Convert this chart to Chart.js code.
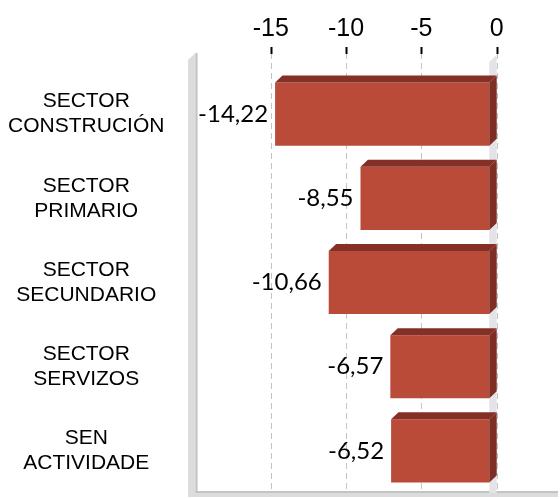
<!DOCTYPE html>
<html><head><meta charset="utf-8">
<script src="https://cdn.jsdelivr.net/npm/chart.js@4/dist/chart.umd.min.js"></script>
<style>html,body{margin:0;padding:0;background:#fff}canvas{display:block}</style>
</head><body>
<canvas id="c" width="560" height="499"></canvas>
<script>
// ---- data ----
const categories = [
  ['SECTOR', 'CONSTRUCIÓN'],
  ['SECTOR', 'PRIMARIO'],
  ['SECTOR', 'SECUNDARIO'],
  ['SECTOR', 'SERVIZOS'],
  ['SEN', 'ACTIVIDADE']
];
const values = [-14.22, -8.55, -10.66, -6.57, -6.52];
const tickValues = [-15, -10, -5, 0];
const axisMin = -20;
const axisMax = 0;

// ---- style constants ----
const DX = 7.4, DY = 7;              // 3D depth offset (px)
const depthUnits = 0.49;             // DX expressed in axis units
const FRONT = 'rgb(185,75,56)';
const TOP = 'rgb(132,48,38)';
const SIDE = 'rgb(126,46,36)';

const deco = {
  id: 'deco',
  beforeDatasetsDraw(chart) {
    const ctx = chart.ctx, ca = chart.chartArea;
    const xb = chart.scales.xBack;
    const backTop = 53, floorY = ca.bottom;
    ctx.save();
    // left wall
    const wl = xb.getPixelForValue(axisMin);
    ctx.fillStyle = '#dcdcdc';
    ctx.beginPath();
    ctx.moveTo(wl - DX, backTop + DY);
    ctx.lineTo(wl, backTop);
    ctx.lineTo(wl, floorY + 4);
    ctx.lineTo(wl - DX, floorY + 4);
    ctx.closePath(); ctx.fill();
    ctx.fillStyle = '#c3c3c3';
    ctx.fillRect(wl, backTop, 2.2, floorY - backTop);
    // floor
    ctx.fillStyle = '#dcdcdc';
    ctx.fillRect(wl - DX, floorY, 558 - (wl - DX), 4);
    ctx.fillStyle = '#c3c3c3';
    ctx.fillRect(wl, floorY - 2, 558 - wl, 2);
    // zero plane band
    const z = xb.getPixelForValue(0);
    ctx.fillStyle = '#e4e4e8';
    ctx.beginPath();
    ctx.moveTo(z - DX, backTop + 2 + DY);
    ctx.lineTo(z, backTop + 2);
    ctx.lineTo(z, floorY);
    ctx.lineTo(z - DX, floorY);
    ctx.closePath(); ctx.fill();
    // dashed grid lines (back plane)
    ctx.strokeStyle = '#c4c4c4';
    ctx.lineWidth = 1;
    ctx.setLineDash([6, 4]);
    xb.ticks.forEach(t => {
      const px = Math.round(xb.getPixelForValue(t.value)) + 0.5;
      ctx.beginPath();
      ctx.moveTo(px, backTop);
      ctx.lineTo(px, floorY - 2);
      ctx.stroke();
    });
    ctx.setLineDash([]);
    // tick marks
    ctx.strokeStyle = '#000';
    ctx.lineWidth = 2;
    xb.ticks.forEach(t => {
      const px = Math.round(xb.getPixelForValue(t.value)) + 0.5;
      ctx.beginPath();
      ctx.moveTo(px, 47);
      ctx.lineTo(px, 54);
      ctx.stroke();
    });
    ctx.restore();
  },
  afterDatasetsDraw(chart) {
    const ctx = chart.ctx;
    const meta = chart.getDatasetMeta(0);
    ctx.save();
    meta.data.forEach((el, i) => {
      const p = el.getProps(['x', 'y', 'base', 'height'], true);
      const x1 = Math.min(p.x, p.base), x0 = Math.max(p.x, p.base);
      const top = p.y - p.height / 2, bottom = p.y + p.height / 2;
      // top face
      ctx.fillStyle = TOP;
      ctx.beginPath();
      ctx.moveTo(x1, top);
      ctx.lineTo(x1 + DX, top - DY);
      ctx.lineTo(x0 + DX, top - DY);
      ctx.lineTo(x0, top);
      ctx.closePath(); ctx.fill();
      // side face
      ctx.fillStyle = SIDE;
      ctx.beginPath();
      ctx.moveTo(x0, top);
      ctx.lineTo(x0 + DX, top - DY);
      ctx.lineTo(x0 + DX, bottom - DY);
      ctx.lineTo(x0, bottom);
      ctx.closePath(); ctx.fill();
      // value label
      ctx.fillStyle = '#000';
      ctx.font = '24px Lato';
      ctx.textAlign = 'right';
      ctx.textBaseline = 'middle';
      const txt = values[i].toFixed(2).replace('.', ',');
      ctx.fillText(txt, x1 - 7, p.y);
    });
    ctx.restore();
  }
};

new Chart(document.getElementById('c'), {
  type: 'bar',
  data: {
    labels: categories,
    datasets: [{
      data: values,
      backgroundColor: FRONT,
      borderWidth: 0,
      xAxisID: 'x',
      yAxisID: 'y',
      barPercentage: 0.75,
      categoryPercentage: 1
    }]
  },
  options: {
    indexAxis: 'y',
    responsive: false,
    animation: false,
    layout: { padding: { left: 0, top: 0, right: 63.3, bottom: 6 } },
    plugins: { legend: { display: false }, tooltip: { enabled: false } },
    scales: {
      x: {
        type: 'linear',
        display: false,
        min: axisMin + depthUnits,
        max: axisMax + depthUnits
      },
      xBack: {
        type: 'linear',
        position: 'top',
        min: axisMin,
        max: axisMax,
        afterBuildTicks: s => { s.ticks = tickValues.map(v => ({ value: v })); },
        afterFit: s => { s.height = 72; },
        border: { display: false },
        grid: { display: true, drawOnChartArea: false, drawTicks: true, tickLength: 25, tickColor: 'rgba(0,0,0,0)' },
        ticks: {
          color: '#000',
          padding: 3,
          font: { family: "'Liberation Sans', Arial, sans-serif", size: 25 },
          callback: v => String(v)
        }
      },
      y: {
        type: 'category',
        position: 'left',
        afterFit: s => { s.width = 195.4; s.paddingTop = 0; s.paddingBottom = 0; },
        border: { display: false },
        grid: { display: true, drawOnChartArea: false, drawTicks: true, tickLength: 31, tickColor: 'rgba(0,0,0,0)' },
        ticks: {
          color: '#000',
          crossAlign: 'center',
          padding: 0,
          font: { family: "'Liberation Sans', Arial, sans-serif", size: 21, lineHeight: 1.19 }
        }
      }
    }
  },
  plugins: [deco]
});
</script>
</body></html>
